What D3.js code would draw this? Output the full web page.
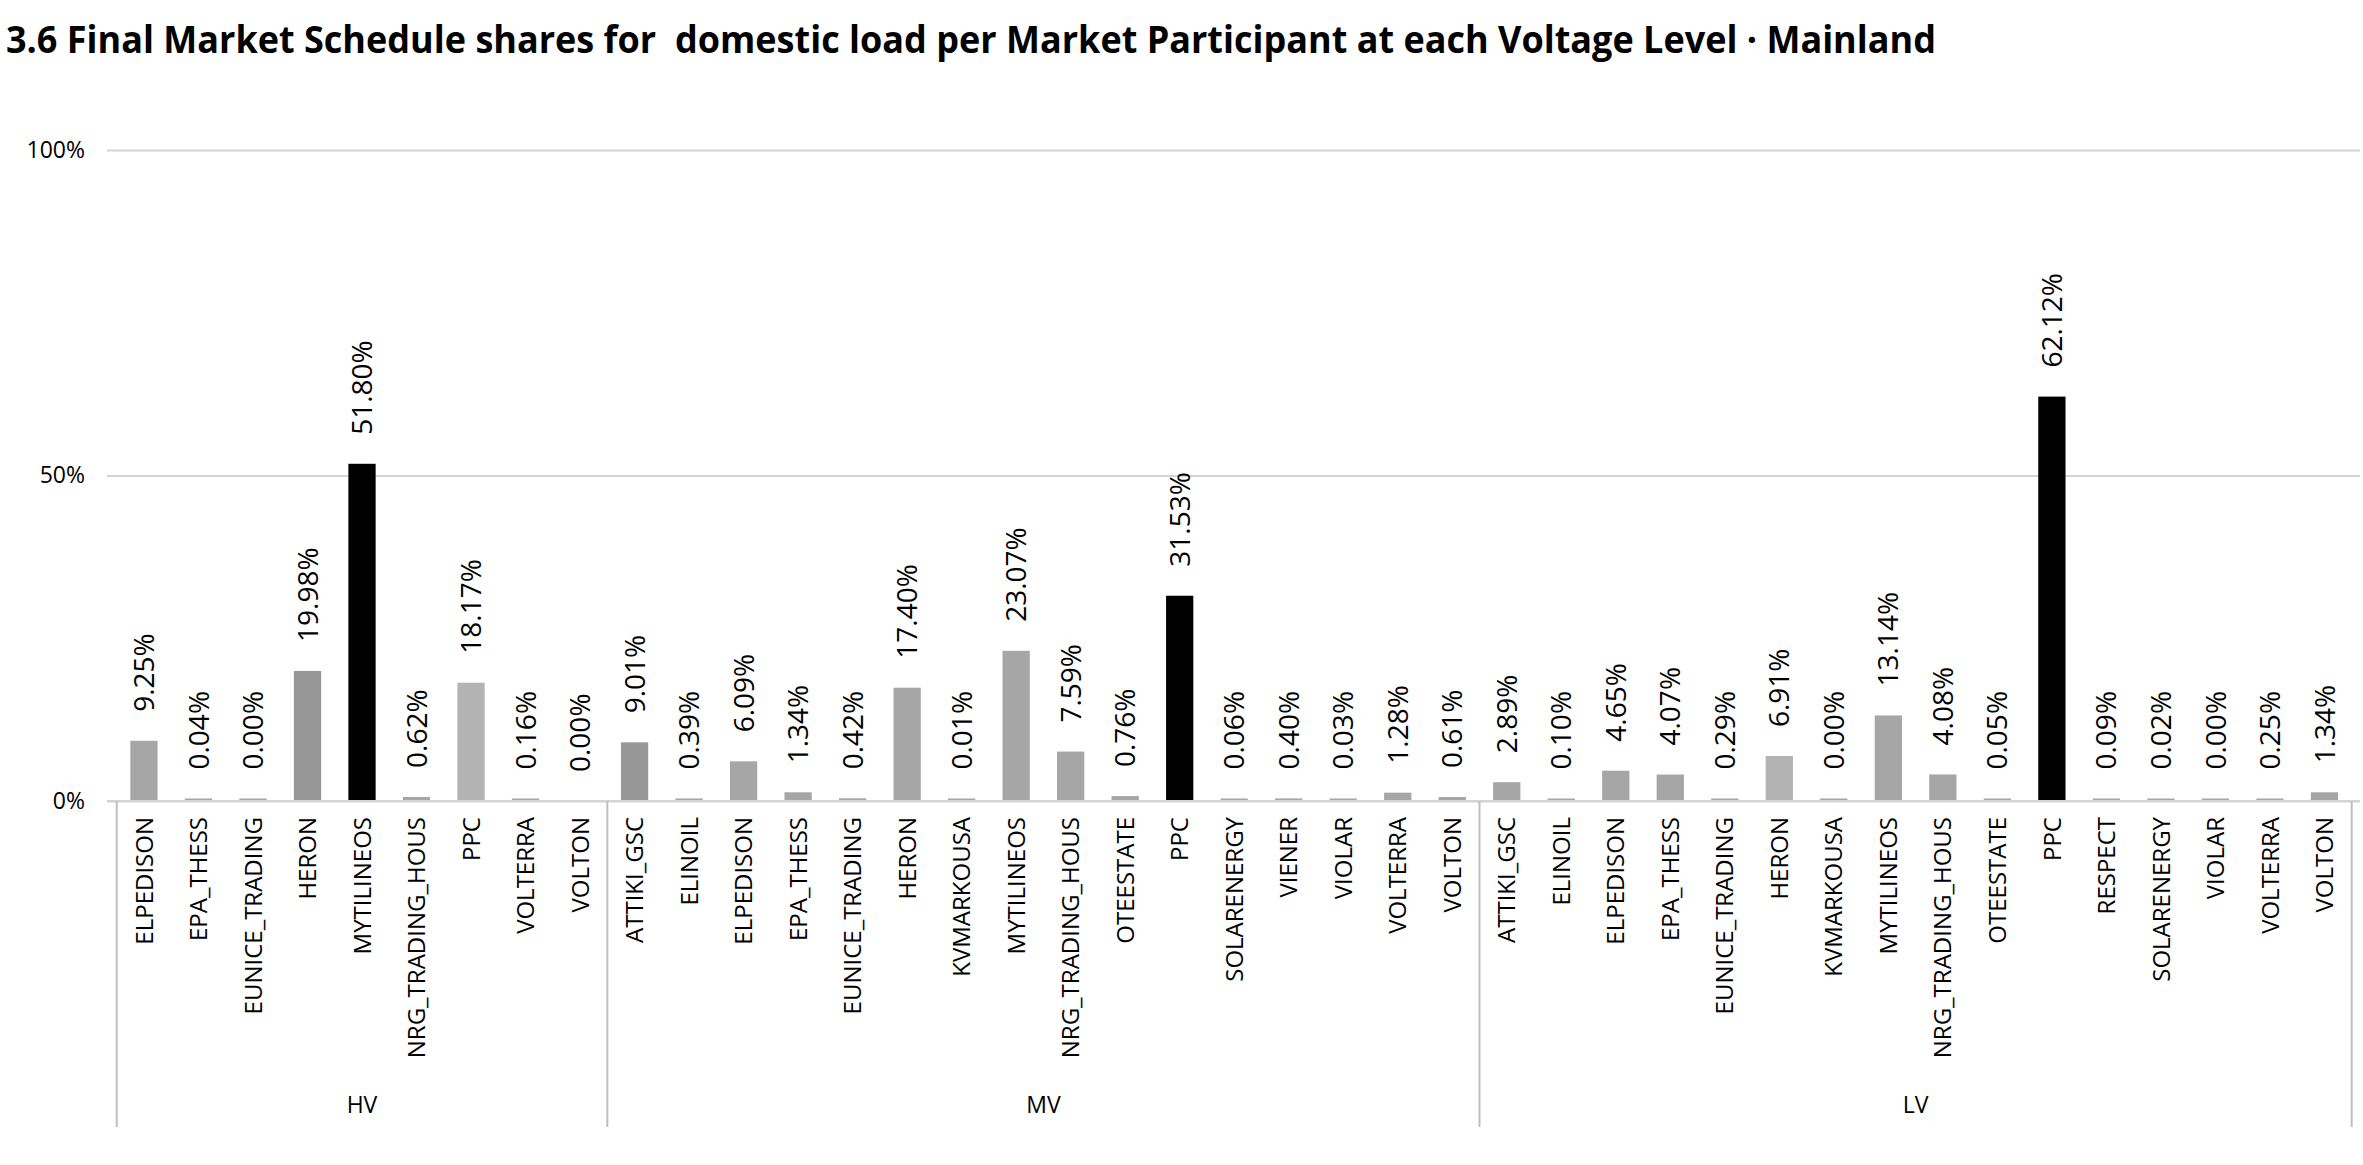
<!DOCTYPE html>
<html>
<head>
<meta charset="utf-8">
<script src="https://cdn.jsdelivr.net/npm/d3@7"></script>
<style>
  body { margin: 0; background: #fff; }
  text { font-family: "Open Sans", "Noto Sans", sans-serif; }
</style>
</head>
<body>
<div id="wrapper"></div>
<script>
/* data: shares in % per participant, grouped by voltage level */
const titleText = "3.6 Final Market Schedule shares for  domestic load per Market Participant at each Voltage Level \u00b7 Mainland";

const levels = ["HV", "MV", "LV"];

const hvNames = ["ELPEDISON", "EPA_THESS", "EUNICE_TRADING", "HERON", "MYTILINEOS", "NRG_TRADING_HOUS", "PPC", "VOLTERRA", "VOLTON"];
const hvValues = [9.25, 0.04, 0.002, 19.98, 51.80, 0.62, 18.17, 0.16, 0];

const mvNames = ["ATTIKI_GSC", "ELINOIL", "ELPEDISON", "EPA_THESS", "EUNICE_TRADING", "HERON", "KVMARKOUSA", "MYTILINEOS", "NRG_TRADING_HOUS", "OTEESTATE", "PPC", "SOLARENERGY", "VIENER", "VIOLAR", "VOLTERRA", "VOLTON"];
const mvValues = [9.01, 0.39, 6.09, 1.34, 0.42, 17.40, 0.01, 23.07, 7.59, 0.76, 31.53, 0.06, 0.40, 0.03, 1.28, 0.61];

const lvNames = ["ATTIKI_GSC", "ELINOIL", "ELPEDISON", "EPA_THESS", "EUNICE_TRADING", "HERON", "KVMARKOUSA", "MYTILINEOS", "NRG_TRADING_HOUS", "OTEESTATE", "PPC", "RESPECT", "SOLARENERGY", "VIOLAR", "VOLTERRA", "VOLTON"];
const lvValues = [2.89, 0.10, 4.65, 4.07, 0.29, 6.91, 0.002, 13.14, 4.08, 0.05, 62.12, 0.09, 0.02, 0.002, 0.25, 1.34];

const yTicks = [0, 50, 100];

// bars drawn in another shade in the original
const darkerBars = ["HV|HERON", "MV|ATTIKI_GSC"];
const lighterBars = ["HV|PPC", "LV|HERON"];

async function drawChart() {
	const dimensions = {
		width: 2363,
		height: 1165,
		plotLeft: 107,
		plotRight: 2360,
		catLeft: 116.7,
		catRight: 2351.7,
		top: 150,
		baseline: 801,
		sepBottom: 1127,
	}

	// flatten groups into one list of rows
	const groupNames = { HV: hvNames, MV: mvNames, LV: lvNames };
	const groupValues = { HV: hvValues, MV: mvValues, LV: lvValues };
	let dataset = [];
	levels.forEach(function(lvl) {
		const vals = groupValues[lvl];
		const maxV = d3.max(vals);
		groupNames[lvl].forEach(function(name, i) {
			dataset.push({ level: lvl, name: name, value: vals[i], key: lvl + "|" + name, isMax: vals[i] === maxV });
		});
	});

	const svg = d3.select("#wrapper")
		.append("svg")
		.attr("width", dimensions.width)
		.attr("height", dimensions.height);

	/* scales */
	const xScale = d3.scaleBand()
		.domain(dataset.map(d => d.key))
		.range([dimensions.catLeft, dimensions.catRight])
		.paddingInner(0.5)
		.paddingOuter(0.25);

	const yScale = d3.scaleLinear()
		.domain([0, 100])
		.range([dimensions.baseline, dimensions.top]);

	/* title */
	const title = svg.append("text")
		.attr("x", 6)
		.attr("y", 53)
		.style("font-size", "38px")
		.style("font-weight", "bold")
		.style("white-space", "pre")
		.attr("fill", "#000")
		.text(titleText);
	const natural = title.node().getComputedTextLength();
	if (natural > 1930) {
		title.attr("textLength", 1930).attr("lengthAdjust", "spacingAndGlyphs");
	}

	/* gridlines + y labels */
	const yAxisGenerator = d3.axisLeft(yScale)
		.tickValues(yTicks)
		.tickSize(-(dimensions.plotRight - dimensions.plotLeft))
		.tickPadding(22)
		.tickFormat(d => d + "%");
	const yAxis = svg.append("g")
		.attr("transform", `translate(${dimensions.plotLeft},0)`)
		.call(yAxisGenerator);
	yAxis.select(".domain").remove();
	yAxis.selectAll(".tick line")
		.attr("stroke", "#d4d4d4")
		.attr("stroke-width", 2);
	yAxis.selectAll(".tick text")
		.attr("fill", "#000")
		.style("font-size", "23px")
		.style("font-family", "'Open Sans', sans-serif");

	/* bars */
	function barColor(d) {
		if (d.isMax) return "#000000";
		if (darkerBars.includes(d.key)) return "#979797";
		if (lighterBars.includes(d.key)) return "#b3b3b3";
		return "#a6a6a6";
	}
	function barTop(d) {
		if (d.value <= 0) return yScale(0);
		return Math.min(yScale(d.value), yScale(0) - 2.5);
	}

	svg.append("g").selectAll("rect")
		.data(dataset)
		.enter().append("rect")
		.attr("x", d => xScale(d.key))
		.attr("width", xScale.bandwidth())
		.attr("y", d => barTop(d))
		.attr("height", d => yScale(0) - barTop(d))
		.attr("fill", d => barColor(d));

	// redraw the baseline on top of the bar bottoms
	svg.append("line")
		.attr("x1", dimensions.plotLeft)
		.attr("x2", dimensions.plotRight)
		.attr("y1", yScale(0))
		.attr("y2", yScale(0))
		.attr("stroke", "#d4d4d4")
		.attr("stroke-width", 2);

	/* data labels */
	svg.append("g").selectAll("text")
		.data(dataset)
		.enter().append("text")
		.attr("transform", d => {
			const cx = xScale(d.key) + xScale.bandwidth() / 2;
			const y = barTop(d) - 29;
			return `translate(${cx},${y}) rotate(-90)`;
		})
		.attr("dy", "0.36em")
		.attr("text-anchor", "start")
		.attr("fill", "#000")
		.style("font-size", "28px")
		.text(d => (Math.round(d.value * 100) / 100).toFixed(2) + "%");

	/* category labels */
	svg.append("g").selectAll("text")
		.data(dataset)
		.enter().append("text")
		.attr("transform", d => {
			const cx = xScale(d.key) + xScale.bandwidth() / 2;
			return `translate(${cx},${dimensions.baseline + 16}) rotate(-90)`;
		})
		.attr("dy", "0.36em")
		.attr("text-anchor", "end")
		.attr("fill", "#000")
		.style("font-size", "24px")
		.text(d => d.name);

	/* group separators and level labels */
	const step = xScale.step();
	let start = dimensions.catLeft;
	const groupInfo = levels.map(function(lvl) {
		const n = groupNames[lvl].length;
		const g = { level: lvl, x0: start, x1: start + n * step };
		start = g.x1;
		return g;
	});
	const seps = [groupInfo[0].x0].concat(groupInfo.map(g => g.x1));
	svg.append("g").selectAll("line")
		.data(seps)
		.enter().append("line")
		.attr("x1", d => d)
		.attr("x2", d => d)
		.attr("y1", dimensions.baseline)
		.attr("y2", dimensions.sepBottom)
		.attr("stroke", "#bfbfbf")
		.attr("stroke-width", 2);

	svg.append("g").selectAll("text")
		.data(groupInfo)
		.enter().append("text")
		.attr("x", d => (d.x0 + d.x1) / 2)
		.attr("y", 1113)
		.attr("text-anchor", "middle")
		.attr("fill", "#000")
		.style("font-size", "23px")
		.text(d => d.level);
}
drawChart();
</script>
</body>
</html>
